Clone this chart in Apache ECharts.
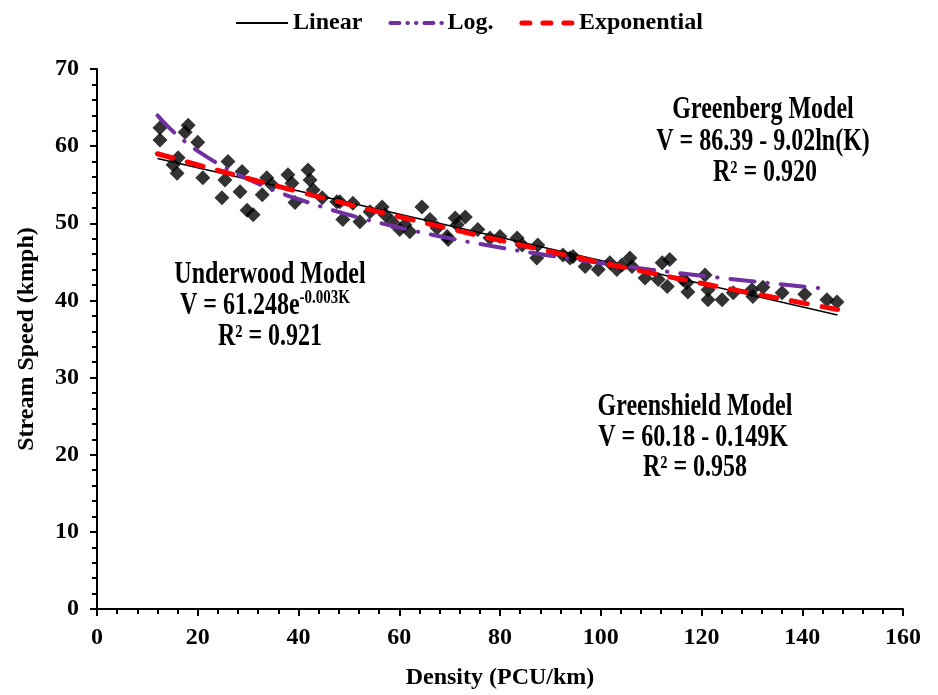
<!DOCTYPE html>
<html><head><meta charset="utf-8">
<script src="https://cdn.jsdelivr.net/npm/echarts@6/dist/echarts.min.js"></script>
<style>html,body{margin:0;padding:0;background:#fff}#c{width:938px;height:695px}</style>
</head><body><div id="c"></div>
<script>
// Observed stream (density, speed) pairs
const observedDensity = [12.5,12.5,18.1,17.5,20.0,16.1,15.1,15.9,21.0,26.0,25.4,24.8,28.4,28.8,29.8,31.0,33.7,32.8,34.7,37.9,38.7,39.3,41.9,42.3,42.9,44.7,47.6,48.2,50.8,48.8,52.2,54.2,56.6,57.2,58.6,60.1,61.1,62.1,64.5,66.1,67.5,69.5,69.7,71.1,73.1,71.5,75.6,78.0,80.0,83.4,84.4,87.5,87.3,92.5,93.9,94.5,96.9,99.5,101.8,103.2,104.2,105.8,106.2,108.8,111.4,112.2,113.7,113.2,116.3,117.3,117.1,120.7,121.3,121.3,124.1,126.3,130.0,130.2,132.2,136.0,140.5,144.9,146.9];
const observedSpeed   = [62.4,60.8,62.7,61.8,60.5,58.5,57.6,56.5,55.9,58.0,55.6,53.3,54.1,56.7,51.7,51.1,55.9,53.7,55.0,56.3,55.2,52.7,56.9,55.6,54.3,53.3,52.8,52.8,52.6,50.5,50.2,51.5,52.1,51.1,50.2,49.2,49.8,48.9,52.1,50.5,49.4,48.3,47.9,50.7,50.8,49.8,49.2,48.1,48.3,48.1,47.2,47.2,45.5,45.9,45.5,45.7,44.4,44.0,44.9,44.0,44.6,45.5,44.4,42.9,42.7,44.9,45.3,41.8,42.7,41.1,42.3,43.3,40.1,41.4,40.1,41.0,41.4,40.5,41.7,41.0,40.8,40.1,39.8];

// Trendlines
const linearK = [12, 147];
const linearV = [58.4, 38.1];
const logK = [12,14,16,18,20,25,30,35,40,50,60,70,80,90,100,110,120,130,140,145];
const logV = [63.98,62.59,61.38,60.32,59.37,57.36,55.71,54.32,53.12,51.10,49.46,48.07,46.86,45.80,44.85,43.99,43.21,42.49,41.82,41.5];
const expK = [12,20,30,40,50,60,70,80,90,100,110,120,130,140,147];
const expV = [59.01,57.57,55.81,54.11,52.45,50.85,49.30,47.80,46.34,44.92,43.55,42.22,40.93,39.68,38.83];

const seriesNames = ['Linear', 'Log.', 'Exponential'];
const xAxisTitle = 'Density (PCU/km)';
const yAxisTitle = 'Stream Speed (kmph)';
const greenberg = ['Greenberg Model', 'V = 86.39 - 9.02ln(K)', 'R² = 0.920'];
const underwood = ['Underwood Model', 'V = 61.248e', '-0.003K', 'R² = 0.921'];
const greenshield = ['Greenshield Model', 'V = 60.18 - 0.149K', 'R² = 0.958'];

const zip = (a, b) => a.map((v, i) => [v, b[i]]);
const FONT = "'Liberation Serif','Times New Roman',serif";
const txt = { fontFamily: FONT, fontWeight: 'bold', fontSize: 24, color: '#000' };
const SY = 1.28;

function label(x, y, text) {
  return { type: 'text', x: x, y: y, scaleY: SY, style: { text: text, fill: '#000', font: 'bold 24px ' + FONT, align: 'center', verticalAlign: 'middle' }, z: 10 };
}

const chart = echarts.init(document.getElementById('c'), null, { renderer: 'canvas' });
chart.setOption({
  animation: false,
  backgroundColor: '#fff',
  grid: { left: 97, right: 35, top: 69, bottom: 85, containLabel: false },
  legend: {
    data: [
      { name: seriesNames[0], lineStyle: { color: '#000', width: 2 } },
      { name: seriesNames[1], lineStyle: { color: '#7030A0', width: 4, type: [9, 8, 0.5, 8, 0.5, 8], cap: 'round' } },
      { name: seriesNames[2], lineStyle: { color: '#FF0000', width: 5, type: [8, 13], cap: 'round' } }
    ],
    top: 6, left: 'center', itemWidth: 52, itemHeight: 14, itemGap: 26,
    itemStyle: { opacity: 0 },
    textStyle: Object.assign({}, txt, { fontSize: 24 })
  },
  xAxis: {
    type: 'value', min: 0, max: 160, interval: 20,
    name: xAxisTitle, nameLocation: 'middle', nameGap: 57, nameTextStyle: txt,
    axisLine: { show: true, onZero: false, lineStyle: { color: '#000', width: 2 } },
    axisTick: { show: true, length: 7, lineStyle: { color: '#000', width: 2 } },
    minorTick: { show: true, splitNumber: 5, length: 5, lineStyle: { color: '#000', width: 2 } },
    axisLabel: Object.assign({ margin: 17 }, txt),
    splitLine: { show: false }
  },
  yAxis: {
    type: 'value', min: 0, max: 70, interval: 10,
    name: yAxisTitle, nameLocation: 'middle', nameGap: 58, nameRotate: 90, nameTextStyle: txt,
    axisLine: { show: true, onZero: false, lineStyle: { color: '#000', width: 2 } },
    axisTick: { show: true, length: 7, lineStyle: { color: '#000', width: 2 } },
    minorTick: { show: true, splitNumber: 5, length: 5, lineStyle: { color: '#000', width: 2 } },
    axisLabel: Object.assign({ margin: 18 }, txt),
    splitLine: { show: false }
  },
  series: [
    { type: 'scatter', name: 'Observed', data: zip(observedDensity, observedSpeed), symbol: 'diamond', symbolSize: 15, itemStyle: { color: '#000' }, z: 2 },
    { type: 'line', name: seriesNames[0], data: zip(linearK, linearV), symbol: 'none', lineStyle: { color: '#000', width: 1.5 }, itemStyle: { color: '#000' }, z: 3 },
    { type: 'line', name: seriesNames[1], data: zip(logK, logV), symbol: 'none', smooth: true, lineStyle: { color: '#7030A0', width: 4, type: [24, 13, 0.5, 13], cap: 'round' }, itemStyle: { color: '#7030A0' }, z: 4 },
    { type: 'line', name: seriesNames[2], data: zip(expK, expV), symbol: 'none', smooth: true, lineStyle: { color: '#FF0000', width: 5, type: [16, 15], cap: 'round' }, itemStyle: { color: '#FF0000' }, z: 5 }
  ],
  graphic: [
    label(763, 110, greenberg[0]), label(763, 142, greenberg[1]), label(765, 173, greenberg[2]),
    label(270, 275, underwood[0]),
    { type: 'text', x: 265, y: 306, scaleY: SY, z: 10, style: { text: '{a|' + underwood[1] + '}{s|' + underwood[2] + '}', align: 'center', verticalAlign: 'middle',
      rich: { a: { fontFamily: FONT, fontWeight: 'bold', fontSize: 24, lineHeight: 28, fill: '#000' },
              s: { fontFamily: FONT, fontWeight: 'bold', fontSize: 15, lineHeight: 28, verticalAlign: 'top', padding: [0,0,10,0], fill: '#000' } } } },
    label(270, 337, underwood[3]),
    label(695, 407, greenshield[0]), label(693, 438, greenshield[1]), label(695, 468, greenshield[2])
  ]
});
</script></body></html>
